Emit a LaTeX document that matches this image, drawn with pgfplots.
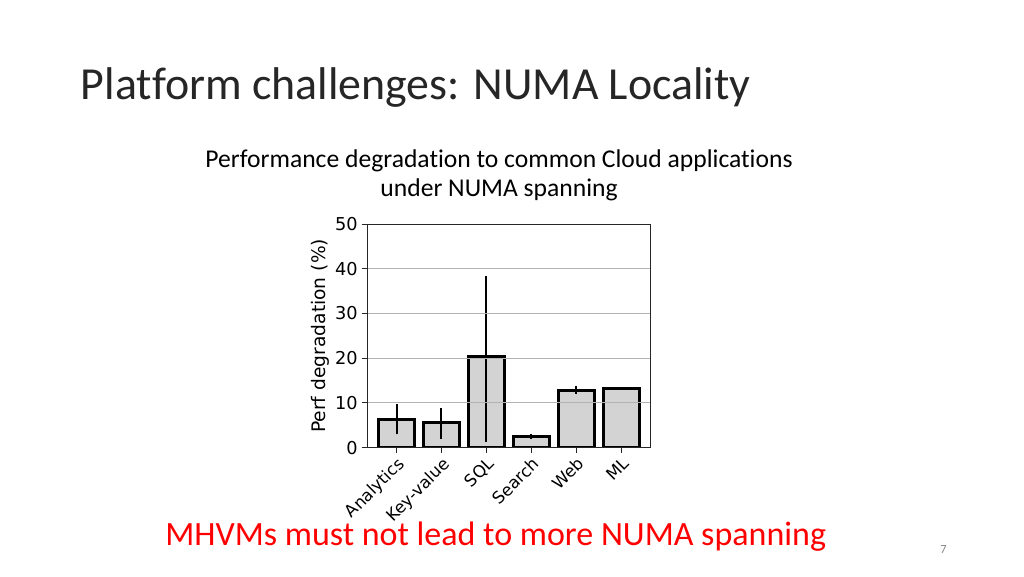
\documentclass[border=0pt]{standalone}
\usepackage{pgfplots}
\pgfplotsset{compat=1.18}
\usepackage{fontspec}
\setmainfont{Carlito}[Ligatures=NoCommon]
\newfontfamily\dejavu{DejaVu Sans}
\definecolor{barfill}{RGB}{211,211,211}
\definecolor{slidered}{RGB}{255,0,0}
\definecolor{pagegray}{RGB}{137,137,137}

\begin{document}
\begin{tikzpicture}
% slide canvas, 1024x576 px at 0.75pt per px
\fill[white] (0pt,0pt) rectangle (768pt,432pt);

\node[anchor=base west, inner sep=0pt, text=black!85, font=\fontsize{34.4}{40}\selectfont]
  at (60.5pt,357pt) {Platform challenges: NUMA Locality};
\node[anchor=base, inner sep=0pt, font=\fontsize{19.2}{22}\selectfont]
  at (374.3pt,306.75pt) {Performance degradation to common Cloud applications};
\node[anchor=base, inner sep=0pt, font=\fontsize{19.2}{22}\selectfont]
  at (374.3pt,285pt) {under NUMA spanning};
\node[anchor=base west, inner sep=0pt, text=slidered, font=\fontsize{25.5}{30}\selectfont]
  at (123.75pt,22.7pt) {MHVMs must not lead to more NUMA spanning};
\node[anchor=base west, inner sep=0pt, text=pagegray, font=\fontsize{9.3}{11}\selectfont]
  at (705pt,17.25pt) {7};

\begin{axis}[
    at={(275.8pt,96.2pt)},
    anchor=south west,
    scale only axis,
    width=211.7pt,
    height=167.8pt,
    xmin=-0.64, xmax=5.64,
    ymin=0, ymax=50,
    xtick={0,1,2,3,4,5},
    xticklabels={Analytics,Key-value,SQL,Search,Web,ML},
    ytick={0,10,20,30,40,50},
    tick align=outside,
    xtick pos=lower,
    ytick pos=left,
    major tick length=4pt,
    tick style={black!85, line width=0.75pt},
    axis line style={black!85, line width=0.75pt},
    ymajorgrids,
    grid style={gray!60, line width=0.75pt},
    axis on top,
    /pgf/number format/assume math mode=true,
    yticklabel style={font=\dejavu\fontsize{13.3}{15}\selectfont},
    xticklabel style={font=\dejavu\fontsize{12.5}{14}\selectfont,
                      rotate=45, anchor=north east, inner sep=1.5pt},
    ylabel={Perf degradation (\%)},
    ylabel style={font=\dejavu\fontsize{14}{16}\selectfont,
                  at={(axis description cs:-0.169,0.5)}, anchor=center},
]
\addplot[ybar, bar width=0.8, fill=barfill, draw=black, line width=2.25pt,
         error bars/.cd, y dir=both, y explicit,
         error bar style={black, line width=1.5pt},
         error mark=none]
  coordinates {
    (0, 6.4)  += (0,3.3)  -= (0,3.4)
    (1, 5.7)  += (0,3.1)  -= (0,3.8)
    (2, 20.3) += (0,18.1) -= (0,19.0)
    (3, 2.5)  += (0,0.5)  -= (0,0.5)
    (4, 12.9) += (0,0.9)  -= (0,1.0)
    (5, 13.2) += (0,0.25) -= (0,0.25)
  };
\end{axis}
\end{tikzpicture}
\end{document}
